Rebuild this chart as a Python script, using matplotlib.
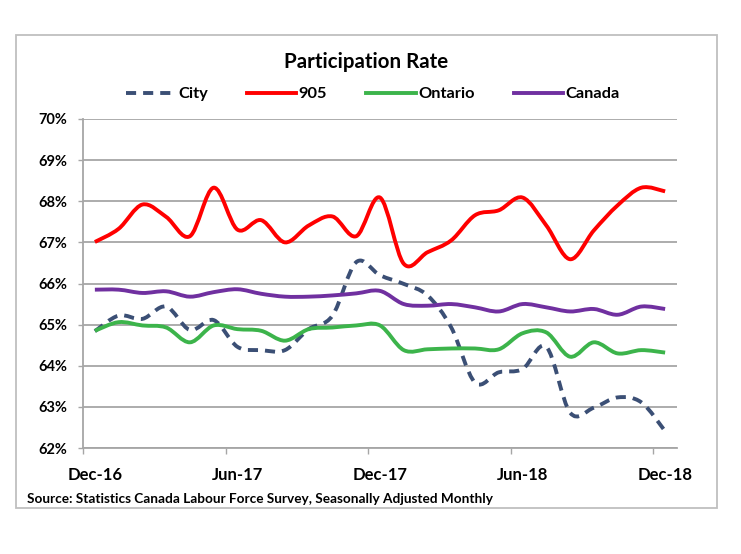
import matplotlib
matplotlib.use("Agg")
import matplotlib.pyplot as plt
from matplotlib.path import Path
from matplotlib.patches import PathPatch, Rectangle
from matplotlib.lines import Line2D
from matplotlib.ticker import FuncFormatter, FixedLocator

plt.rcParams['font.family'] = ['Lato', 'DejaVu Sans']
plt.rcParams['font.weight'] = 'bold'

months = ['Dec-16', 'Jan-17', 'Feb-17', 'Mar-17', 'Apr-17', 'May-17', 'Jun-17',
          'Jul-17', 'Aug-17', 'Sep-17', 'Oct-17', 'Nov-17', 'Dec-17',
          'Jan-18', 'Feb-18', 'Mar-18', 'Apr-18', 'May-18', 'Jun-18',
          'Jul-18', 'Aug-18', 'Sep-18', 'Oct-18', 'Nov-18', 'Dec-18']

city = [64.84, 65.22, 65.14, 65.44, 64.87, 65.11, 64.46, 64.38, 64.38, 64.89,
        65.22, 66.52, 66.20, 65.99, 65.71, 64.93, 63.59, 63.84, 63.92, 64.46,
        62.86, 62.98, 63.23, 63.11, 62.41]
gta905 = [67.01, 67.33, 67.92, 67.62, 67.15, 68.33, 67.31, 67.54, 67.00, 67.41,
          67.63, 67.15, 68.09, 66.48, 66.76, 67.05, 67.66, 67.78, 68.09, 67.41,
          66.59, 67.29, 67.90, 68.33, 68.24]
ontario = [64.85, 65.06, 64.98, 64.93, 64.57, 64.98, 64.89, 64.85, 64.61, 64.89,
           64.93, 64.98, 64.98, 64.38, 64.40, 64.42, 64.42, 64.40, 64.79, 64.81,
           64.22, 64.57, 64.30, 64.38, 64.32]
canada = [65.85, 65.85, 65.77, 65.81, 65.68, 65.79, 65.86, 65.75, 65.68, 65.68,
          65.71, 65.76, 65.82, 65.50, 65.46, 65.50, 65.42, 65.32, 65.50, 65.42,
          65.32, 65.38, 65.24, 65.44, 65.38]

series = [('City', city, '#3B4F75', '--'),
          ('905', gta905, '#FF0000', '-'),
          ('Ontario', ontario, '#3CB44B', '-'),
          ('Canada', canada, '#7030A0', '-')]


def smooth_path(xs, ys):
    # Excel-style smoothed line: Catmull-Rom segments as cubic Beziers
    pts = list(zip(xs, ys))
    verts = [pts[0]]
    codes = [Path.MOVETO]
    n = len(pts)
    for i in range(n - 1):
        p0 = pts[i - 1] if i > 0 else pts[i]
        p1 = pts[i]
        p2 = pts[i + 1]
        p3 = pts[i + 2] if i + 2 < n else pts[i + 1]
        c1 = (p1[0] + (p2[0] - p0[0]) / 6, p1[1] + (p2[1] - p0[1]) / 6)
        c2 = (p2[0] - (p3[0] - p1[0]) / 6, p2[1] - (p3[1] - p1[1]) / 6)
        verts += [c1, c2, p2]
        codes += [Path.CURVE4] * 3
    return Path(verts, codes)


W, H = 741, 554
fig = plt.figure(figsize=(W / 100, H / 100), dpi=100)
ax = fig.add_axes([83 / W, 1 - 448 / H, (677 - 83) / W, (448 - 119) / H])

x = list(range(len(months)))
handles = []
for name, vals, color, ls in series:
    patch = PathPatch(smooth_path(x, vals), facecolor='none', edgecolor=color,
                      lw=2.8, capstyle='butt', joinstyle='round', zorder=3)
    if ls == '--':
        patch.set_linestyle((0, (2.6, 1.8)))
    ax.add_patch(patch)
    handles.append(Line2D([], [], color=color, lw=2.8, linestyle=ls,
                          dashes=(2.6, 1.8) if ls == '--' else (None, None)))

ax.set_xlim(-0.5, len(months) - 0.5)
ax.set_ylim(62, 70)

ax.set_yticks(range(62, 71))
ax.yaxis.set_major_formatter(FuncFormatter(lambda v, p: '%d%%' % v))
ax.tick_params(axis='y', length=3.5, width=1, color='#A6A6A6', pad=8,
               labelsize=10.5, labelcolor='black')

ax.set_xticks(range(0, len(months), 6))
ax.set_xticklabels([months[i] for i in range(0, len(months), 6)])
ax.xaxis.set_minor_locator(FixedLocator([i - 0.5 for i in range(0, len(months), 6)]))
ax.tick_params(axis='x', which='major', length=0, pad=14, labelsize=12)
ax.tick_params(axis='x', which='minor', length=4, width=1, color='#A6A6A6')

ax.grid(axis='y', color='#A6A6A6', lw=1.3)
ax.set_axisbelow(True)
for s in ['top', 'right']:
    ax.spines[s].set_visible(False)
for s in ['left', 'bottom']:
    ax.spines[s].set_color('#A6A6A6')
    ax.spines[s].set_linewidth(1.3)

fig.text(366 / W, 1 - 62 / H, 'Participation Rate', ha='center', va='center',
         fontsize=14.8)
fig.legend(handles, [s[0] for s in series], loc='center', ncol=4,
           bbox_to_anchor=(373 / W, 1 - 94 / H), frameon=False, fontsize=11.8,
           handlelength=3.0, handletextpad=0.15, columnspacing=2.4)
fig.text(27 / W, 1 - 499 / H,
         'Source: Statistics Canada Labour Force Survey, Seasonally Adjusted Monthly',
         ha='left', va='center', fontsize=9.8)

fig.patches.append(Rectangle((16 / W, 1 - 508 / H), (717 - 16) / W, (508 - 35) / H,
                             transform=fig.transFigure, facecolor='none',
                             edgecolor='#BFBFBF', lw=1.3))

fig.savefig('out.png', dpi=100)
